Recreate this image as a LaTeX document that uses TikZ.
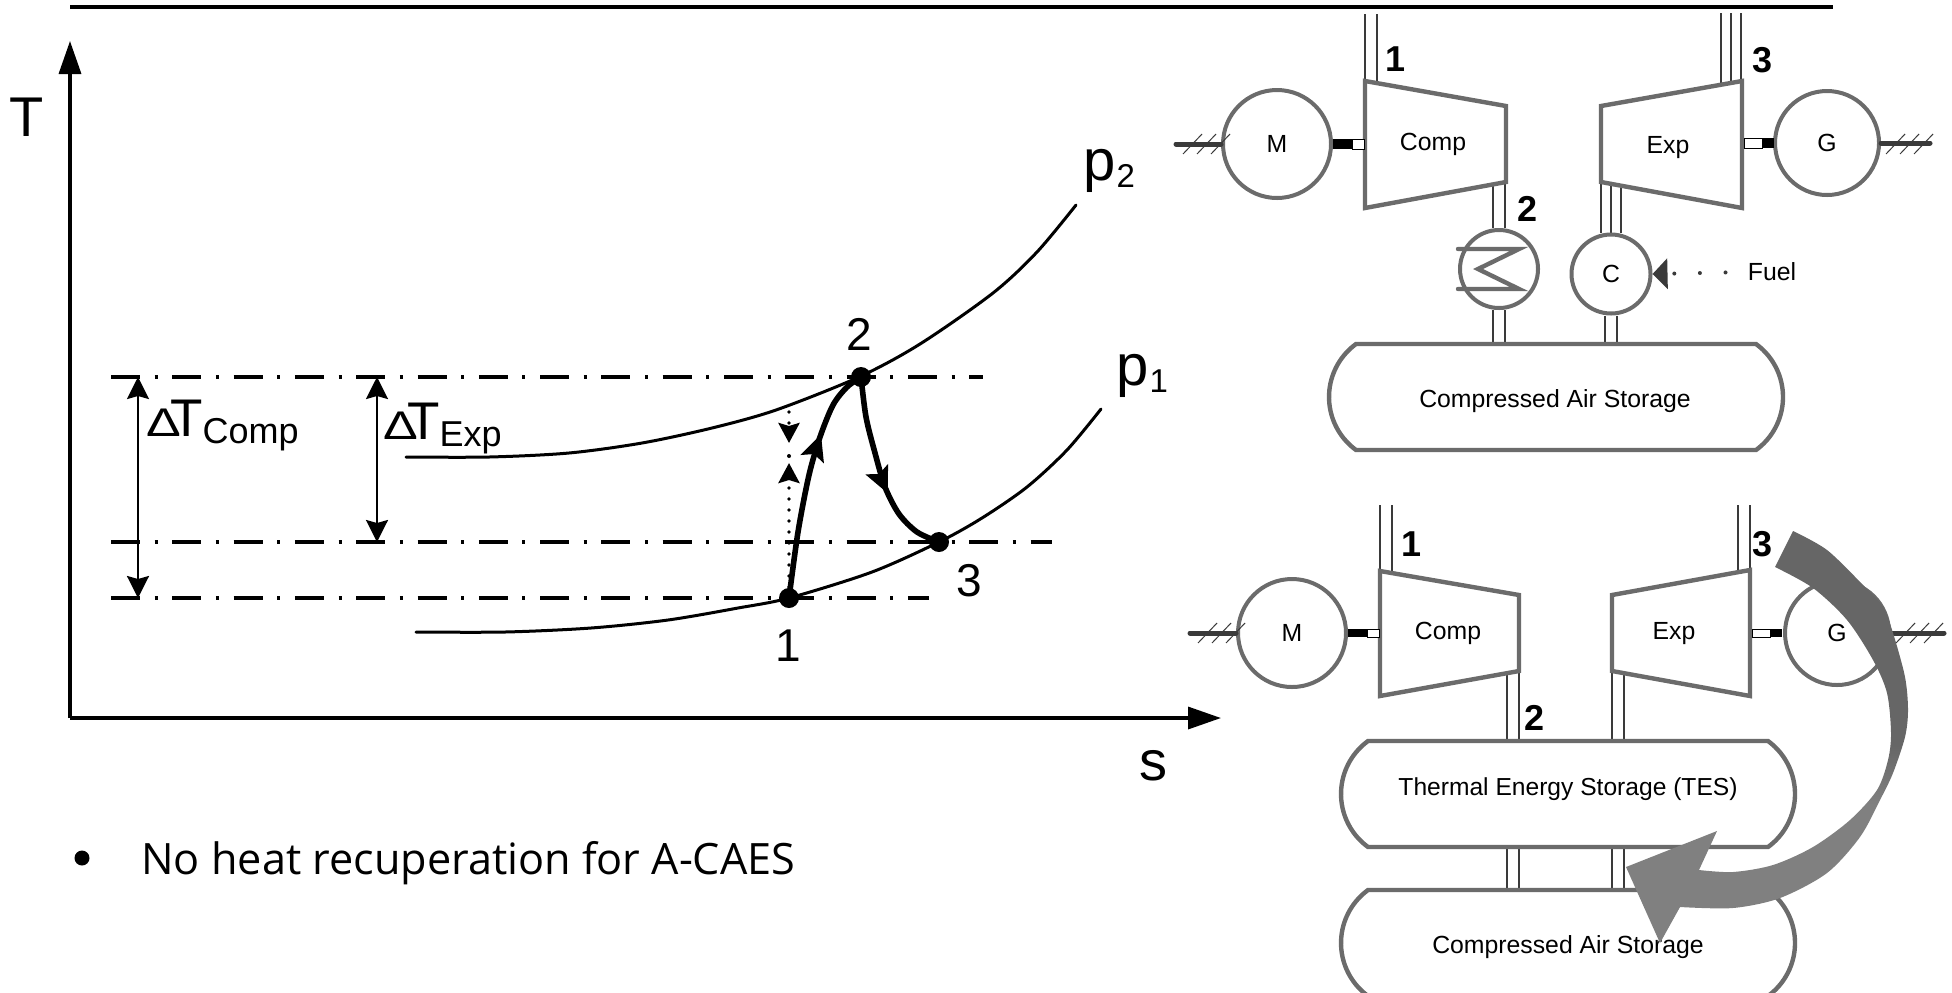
\documentclass[tikz,border=0pt]{standalone}
\usepackage{fontspec}
\setmainfont{Liberation Sans}
\newfontfamily\bulletfont{Open Sans}
\usetikzlibrary{arrows.meta,backgrounds,shapes.misc,decorations.markings}

\definecolor{machinegray}{HTML}{6B6B6B}
\definecolor{pipegray}{HTML}{3A3A3A}
\pgfdeclareverticalshading{transfershade}{100bp}{color(0bp)=(black!50); color(42bp)=(black!50); color(49bp)=(black!60); color(100bp)=(black!60)}

\newcommand{\dTlabel}[1]{\scalebox{1.3}[1]{\fontsize{20}{20}\selectfont Δ}\kern-5.5pt{\fontsize{26.5}{27}\selectfont T}\raisebox{-3.5pt}{\fontsize{18}{18}\selectfont #1}}
\newcommand{\plabel}[1]{{\fontsize{29}{29}\selectfont p}\kern0.5pt\raisebox{-3.5pt}{\fontsize{16.5}{17}\selectfont #1}}

\tikzset{
  axisline/.style={line width=1.7pt,-{Triangle[length=16.5pt,width=11pt]}},
  isoline/.style={line width=1.5pt,line cap=round},
  process/.style={line width=2.8pt,postaction={decorate},decoration={markings,
    mark=at position #1 with {\arrow{Stealth[length=13pt,width=12pt,inset=2.5pt]}}}},
  procdot/.style={circle,fill=black,inner sep=0pt,minimum size=10pt},
  dashdot/.style={line width=1.7pt,dash pattern=on 14.5pt off 7.3pt on 1.5pt off 7.35pt},
  dimline/.style={line width=1.2pt,{Stealth[length=11pt,width=11pt,inset=1.5pt]}-{Stealth[length=11pt,width=11pt,inset=1.5pt]}},
  dotline/.style={line width=1.9pt,line cap=round,dash pattern=on 0pt off 5.5pt},
  plotnum/.style={font=\fontsize{23}{23}\selectfont,inner sep=0pt},
  machine/.style={draw=machinegray,line width=2.2pt,fill=white,line join=miter},
  rotor/.style={circle,draw=machinegray,line width=2pt,fill=white,inner sep=0pt,font=\fontsize{12.4}{12}\selectfont,minimum size=#1},
  tank/.style={rounded rectangle,rounded rectangle arc length=108,draw=machinegray,line width=2.2pt,fill=white,
    inner sep=0pt,minimum width=227pt,minimum height=53pt},
  pipe/.style={draw=pipegray,line width=1pt,double=white,double distance=#1},
  pipe/.default=5pt,
  shaft/.style={draw=pipegray,line width=2.5pt,line cap=round},
  hatch/.style={draw=pipegray,line width=0.5pt},
  mtext/.style={font=\fontsize{12.4}{12}\selectfont,inner sep=0pt},
  statenum/.style={font=\bfseries\fontsize{18}{18}\selectfont,inner sep=0pt},
}

\begin{document}
\begin{tikzpicture}[x=0.5pt,y=-0.5pt]
  \useasboundingbox (0,0) rectangle (1952,992);

  % T-s chart
  \coordinate (topL) at (70,7);
  \coordinate (topR) at (1833,7);
  \draw[line width=1.8pt] (topL) -- (topR);
  \coordinate (origin) at (70,718);
  \coordinate (Ttip) at (70,41);
  \coordinate (stip) at (1221,718);
  \draw[axisline] (origin) -- (Ttip);
  \draw[axisline] (origin) -- (stip);
  \node[font=\fontsize{28}{28}\selectfont,inner sep=0pt] (Tlabel) at (27,117) {T};
  \node[font=\fontsize{28}{28}\selectfont,inner sep=0pt] (slabel) at (1153,766) {s};

  \coordinate (lev2a) at (111,377);
  \coordinate (lev2b) at (983,377);
  \coordinate (lev3a) at (111,542);
  \coordinate (lev3b) at (1052,542);
  \coordinate (lev1a) at (111,598);
  \coordinate (lev1b) at (929,598);
  \draw[dashdot] (lev2a) -- (lev2b);
  \draw[dashdot] (lev3a) -- (lev3b);
  \draw[dashdot] (lev1a) -- (lev1b);

  \coordinate (dCompT) at (138,377);
  \coordinate (dCompB) at (138,598);
  \coordinate (dExpT) at (377,377);
  \coordinate (dExpB) at (377,542);
  \draw[dimline] (dCompT) -- (dCompB);
  \draw[dimline] (dExpT) -- (dExpB);
  \node[anchor=base west,inner sep=0pt] (dTComp) at (146,436) {\dTlabel{Comp}};
  \node[anchor=base west,inner sep=0pt] (dTExp) at (383,439) {\dTlabel{Exp}};

  \draw[isoline] plot[smooth] coordinates {(406,457) (489,457) (569,453) (642,443) (712,428) (776,410) (859,377) (920,344) (993,293) (1037,252) (1076,205)};
  \draw[isoline] plot[smooth] coordinates {(416,632) (505,632) (591,628) (668,620) (738,608) (789,598) (872,572) (939,542) (982,518) (1027,487) (1067,450) (1101,409)};
  \node[anchor=base west,inner sep=0pt] (p2) at (1083,180) {\plabel{2}};
  \node[anchor=base west,inner sep=0pt] (p1) at (1116,385) {\plabel{1}};

  \node[procdot] (pt1) at (789,598) {};
  \node[procdot] (pt2) at (861,377) {};
  \node[procdot] (pt3) at (939,542) {};
  \node[plotnum] (num1) at (788,646) {1};
  \node[plotnum] (num2) at (859,334) {2};
  \node[plotnum] (num3) at (969,581) {3};

  \draw[process=0.7] plot[smooth] coordinates {(pt1.center) (798,532) (809,475) (820,437) (833,405) (847,387) (pt2.center)};
  \draw[process=0.62] plot[smooth] coordinates {(pt2.center) (866,417) (875,453) (885,487) (899,514) (917,532) (pt3.center)};

  \coordinate (dotTop) at (789,412);
  \coordinate (dotDown) at (789,443);
  \coordinate (dotUp) at (789,463);
  \draw[dotline,-{Stealth[length=10pt,width=10.5pt,inset=1.5pt]}] (pt1.center) -- (dotUp);
  \draw[dotline,-{Stealth[length=10pt,width=10.5pt,inset=1.5pt]}] (dotTop) -- (dotDown);
  \fill (789,456) circle (1pt);

  \node[circle,fill=black,inner sep=0pt,minimum size=7.5pt] (bullet) at (82,858) {};
  \node[anchor=base west,inner sep=0pt,font=\bulletfont\fontsize{21.6}{22}\selectfont] (note) at (141,874) {No heat recuperation for A-CAES};

  % upper plant
  \draw[machine] (1365,81) -- (1506,106) -- (1506,182) -- (1365,208) -- cycle;
  \draw[machine] (1601,106) -- (1742,81) -- (1742,208) -- (1601,182) -- cycle;
  \node[mtext] (compA) at (1433,144) {Comp};
  \node[mtext] (expA) at (1668,148) {Exp};
  \node[rotor=54pt] (motorA) at (1277,144) {M};
  \node[rotor=52pt] (genA) at (1827,143) {G};
  \node[rotor=39pt] (coolA) at (1499,269) {};
  \node[rotor=39.5pt] (burnA) at (1611,274) {C};
  \node[tank] (casA) at (1556,397) {};
  \node[mtext] (casAtext) at (1555,401) {Compressed Air Storage};
  \draw[machinegray,line width=2.2pt,line cap=round,line join=miter] (1458,249) -- (1519,249) -- (1478,269) -- (1519,289) -- (1458,289);

  \coordinate (inA) at (1371,14);
  \coordinate (inB) at (1371,90);
  \coordinate (outA) at (1726,13);
  \coordinate (outB) at (1726,95);
  \coordinate (outC) at (1736,13);
  \coordinate (outD) at (1736,95);
  \coordinate (c2A) at (1499,175);
  \coordinate (e2A) at (1606,175);
  \coordinate (e2B) at (1616,175);
  \begin{scope}[on background layer]
    \draw[pipe] (inA) -- (inB);
    \draw[pipe=4pt] (outA) -- (outB);
    \draw[pipe=4pt] (outC) -- (outD);
    \draw[pipe] (c2A) -- (c2A |- coolA.north);
    \draw[pipe=4pt] (e2A) -- (e2A |- burnA.north);
    \draw[pipe=4pt] (e2B) -- (e2B |- burnA.north);
    \draw[pipe] (coolA.south) -- (coolA.south |- casA.north);
    \draw[pipe] (burnA.south) -- (burnA.south |- casA.north);
  \end{scope}
  \node[statenum] (s1A) at (1395,59) {1};
  \node[statenum] (s2A) at (1527,209) {2};
  \node[statenum] (s3A) at (1762,60) {3};

  \node[mtext] (fuel) at (1772,272) {Fuel};
  \draw[pipegray,line width=2pt,line cap=round,dash pattern=on 0pt off 12.8pt,shorten <=11pt,
    -{Triangle[length=7.5pt,width=15pt]}] (fuel.west) -- (burnA.east);

  \coordinate (shaftMa) at (1176,144);
  \coordinate (shaftGa) at (1930,143);
  \draw[shaft] (shaftMa) -- (motorA.west);
  \draw[shaft] (genA.east) -- (shaftGa);
  \foreach \x in {1183,1197,1211}
    \draw[hatch] (\x,154) -- (\x+19,134);
  \foreach \x in {1886,1900,1914}
    \draw[hatch] (\x,154) -- (\x+19,134);
  \fill (1333,139) rectangle (1352,149);
  \draw[fill=white,line width=0.5pt] (1352,139) rectangle (1364,149);
  \draw[fill=white,line width=0.5pt] (1744,138) rectangle (1762,148);
  \fill (1762,138) rectangle (1774,148);

  % lower plant
  \draw[machine] (1380,571) -- (1519,595) -- (1519,671) -- (1380,696) -- cycle;
  \draw[machine] (1612,595) -- (1750,570) -- (1750,696) -- (1612,671) -- cycle;
  \node[mtext] (compB) at (1448,633) {Comp};
  \node[mtext] (expB) at (1674,634) {Exp};
  \node[rotor=54pt] (motorB) at (1292,633) {M};
  \node[rotor=52pt] (genB) at (1837,633) {G};
  \node[tank] (tes) at (1568,794) {};
  \node[mtext,font=\fontsize{12.3}{12}\selectfont] (testext) at (1568,789) {Thermal Energy Storage (TES)};
  \node[tank] (casB) at (1568,943) {};
  \node[mtext] (casBtext) at (1568,947) {Compressed Air Storage};

  \coordinate (inC) at (1386,505);
  \coordinate (inD) at (1386,580);
  \coordinate (outE) at (1744,505);
  \coordinate (outF) at (1744,580);
  \coordinate (c2B) at (1513,665);
  \coordinate (e2C) at (1618,665);
  \begin{scope}[on background layer]
    \draw[pipe] (inC) -- (inD);
    \draw[pipe] (outE) -- (outF);
    \draw[pipe] (c2B) -- (c2B |- tes.north);
    \draw[pipe] (e2C) -- (e2C |- tes.north);
    \draw[pipe] (c2B |- tes.south) -- (c2B |- casB.north);
    \draw[pipe] (e2C |- tes.south) -- (e2C |- casB.north);
  \end{scope}
  \node[statenum] (s1B) at (1411,544) {1};
  \node[statenum] (s2B) at (1534,718) {2};
  \node[statenum] (s3B) at (1762,544) {3};

  \coordinate (shaftMb) at (1190,633);
  \coordinate (shaftGb) at (1944,633);
  \draw[shaft] (shaftMb) -- (motorB.west);
  \draw[shaft] (genB.east) -- (shaftGb);
  \foreach \x in {1198,1212,1226}
    \draw[hatch] (\x,643) -- (\x+19,623);
  \foreach \x in {1896,1910,1924}
    \draw[hatch] (\x,643) -- (\x+19,623);
  \fill (1348,629) rectangle (1367,637);
  \draw[fill=white,line width=0.5pt] (1367,629) rectangle (1379,637);
  \draw[fill=white,line width=0.5pt] (1752,629) rectangle (1770,637);
  \fill (1770,629) rectangle (1782,637);

  % transfer arrow
  \shade[shading=transfershade]
    plot[smooth] coordinates {(1793,531) (1827,550) (1863,585) (1883,607) (1893,633) (1905,677) (1908,710) (1905,737) (1893,773) (1880,800) (1860,837) (1827,873) (1780,898) (1733,908) (1680,907)}
    -- (1660,943) -- (1626,867) -- (1717,831) -- (1699,870)
    -- plot[smooth] coordinates {(1699,870) (1733,872) (1773,865) (1813,847) (1850,820) (1877,790) (1888,760) (1891,733) (1887,693) (1873,660) (1847,620) (1813,588) (1775,567)}
    -- cycle;
\end{tikzpicture}
\end{document}
